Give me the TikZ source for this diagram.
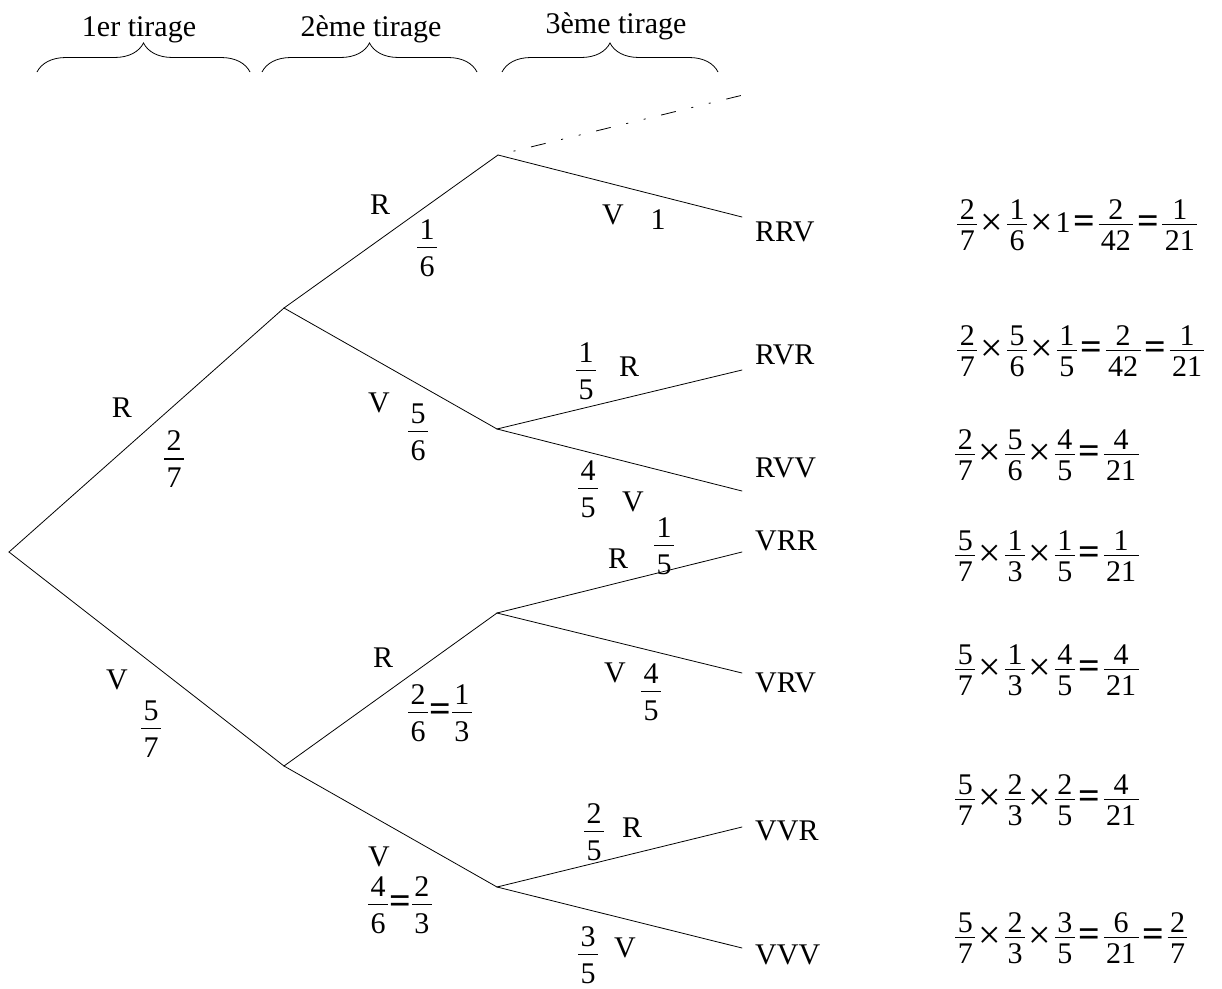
\RequirePackage{fix-cm}
\documentclass[tikz,border=0pt]{standalone}
\usepackage{amsmath}
\usepackage{fontspec}
\setmainfont{Liberation Serif}
\usetikzlibrary{decorations.pathreplacing}

% fraction for the edge labels
\newcommand\fr[2]{\ensuremath{\genfrac{}{}{1.5pt}{1}%
  {\mbox{\rule[-0.2em]{0pt}{0.2em}\kern0.08em#1\kern0.08em}}%
  {\mbox{\rule{0pt}{0.876em}\kern0.08em#2\kern0.08em}}}}
% tighter fraction for the products
\newcommand\ff[2]{\ensuremath{\genfrac{}{}{1.5pt}{1}%
  {\mbox{\rule[-0.1em]{0pt}{0.1em}\kern0.08em#1\kern0.08em}}%
  {\mbox{\rule{0pt}{0.776em}\kern0.08em#2\kern0.08em}}}}
\newcommand\eqs{\mskip1.5mu{\vcenter{\hbox{\fontsize{38}{38}\selectfont\bfseries =}}}\mskip1.5mu}
\newcommand\eqt{{\vcenter{\hbox{\fontsize{38}{38}\selectfont\bfseries =}}}}
\newcommand\tms{\mskip1.5mu{\vcenter{\hbox{\fontsize{40}{40}\selectfont ×}}}\mskip1.5mu}

\tikzset{
  lbl/.style={font=\fontsize{30}{36}\selectfont, inner sep=0pt},
  leaf/.style={lbl, anchor=west},
  formula/.style={font=\fontsize{30}{36}\selectfont, inner sep=0pt, anchor=west},
  head/.style={font=\fontsize{30}{36}\selectfont, inner sep=0pt, anchor=base},
  branch/.style={line width=0.8pt, line cap=round},
  dotline/.style={line width=0.8pt, dash pattern=on 15pt off 16pt on 2pt off 16pt on 2pt off 16pt, dash phase=33pt},
  bracket/.style={line width=0.8pt, decorate, decoration={brace, amplitude=29pt, aspect=0.5}},
}

\begin{document}
\begin{tikzpicture}[x=1pt, y=-1pt]
\useasboundingbox (0,0) rectangle (1222,988);
\fill[white] (0,0) rectangle (1222,988);

% headers
\node[head] (h1) at (139,36) {1er tirage};
\node[head] (h2) at (371,36) {2ème tirage};
\node[head] (h3) at (616,33) {3ème tirage};
\draw[bracket] (37,72) -- (250,72);
\draw[bracket] (262,72) -- (477,72);
\draw[bracket] (502,72) -- (718,72);

% tree vertices
\coordinate (O) at (9,552);
\coordinate (A) at (284,308);
\coordinate (B) at (284,766);
\coordinate (RR) at (498,155);
\coordinate (RV) at (497,429);
\coordinate (VR) at (497,613);
\coordinate (VV) at (497,887);
\coordinate (RRx) at (743,95);
\coordinate (RRV) at (742,217);
\coordinate (RVR) at (742,370);
\coordinate (RVV) at (742,491);
\coordinate (VRR) at (742,552);
\coordinate (VRV) at (742,673);
\coordinate (VVR) at (742,827);
\coordinate (VVV) at (742,948);

\draw[branch] (O) -- (A);
\draw[branch] (O) -- (B);
\draw[branch] (A) -- (RR);
\draw[branch] (A) -- (RV);
\draw[branch] (B) -- (VR);
\draw[branch] (B) -- (VV);
\draw[dotline] (RR) -- (RRx);
\draw[branch] (RR) -- (RRV);
\draw[branch] (RV) -- (RVR);
\draw[branch] (RV) -- (RVV);
\draw[branch] (VR) -- (VRR);
\draw[branch] (VR) -- (VRV);
\draw[branch] (VV) -- (VVR);
\draw[branch] (VV) -- (VVV);

% edge labels
\node[lbl] (l1) at (122,408) {R};
\node[lbl] (p1) at (174,459) {\fr{2}{7}};
\node[lbl] (l2) at (117,680) {V};
\node[lbl] (p2) at (151,729) {\fr{5}{7}};
\node[lbl] (l3) at (380,205) {R};
\node[lbl] (p3) at (427,248) {\fr{1}{6}};
\node[lbl] (l4) at (379,403) {V};
\node[lbl] (p4) at (418,432) {\fr{5}{6}};
\node[lbl] (l5) at (383,658) {R};
\node[lbl] (p5) at (440,713) {$\fr{2}{6}\eqt\fr{1}{3}$};
\node[lbl] (l6) at (379,857) {V};
\node[lbl] (p6) at (400,905) {$\fr{4}{6}\eqt\fr{2}{3}$};
\node[lbl] (l7) at (613,215) {V};
\node[lbl] (p7) at (658,220) {1};
\node[lbl] (p8) at (586,371) {\fr{1}{5}};
\node[lbl] (l8) at (629,367) {R};
\node[lbl] (p9) at (588,489) {\fr{4}{5}};
\node[lbl] (l9) at (633,502) {V};
\node[lbl] (l10) at (618,559) {R};
\node[lbl] (p10) at (664,546) {\fr{1}{5}};
\node[lbl] (l11) at (615,673) {V};
\node[lbl] (p11) at (651,692) {\fr{4}{5}};
\node[lbl] (p12) at (594,832) {\fr{2}{5}};
\node[lbl] (l12) at (632,828) {R};
\node[lbl] (p13) at (588,955) {\fr{3}{5}};
\node[lbl] (l13) at (625,948) {V};

% leaf labels
\node[leaf] (nRRV) at (755,232) {RRV};
\node[leaf] (nRVR) at (755,355) {RVR};
\node[leaf] (nRVV) at (755,468) {RVV};
\node[leaf] (nVRR) at (755,541) {VRR};
\node[leaf] (nVRV) at (755,683) {VRV};
\node[leaf] (nVVR) at (755,831) {VVR};
\node[leaf] (nVVV) at (755,955) {VVV};

% products
\node[formula] (f1) at (956,225) {$\ff{2}{7}\tms\ff{1}{6}\tms\mbox{1}\eqs\ff{2}{42}\eqs\ff{1}{21}$};
\node[formula] (f2) at (956,351) {$\ff{2}{7}\tms\ff{5}{6}\tms\ff{1}{5}\eqs\ff{2}{42}\eqs\ff{1}{21}$};
\node[formula] (f3) at (954,455) {$\ff{2}{7}\tms\ff{5}{6}\tms\ff{4}{5}\eqs\ff{4}{21}$};
\node[formula] (f4) at (954,556) {$\ff{5}{7}\tms\ff{1}{3}\tms\ff{1}{5}\eqs\ff{1}{21}$};
\node[formula] (f5) at (954,670) {$\ff{5}{7}\tms\ff{1}{3}\tms\ff{4}{5}\eqs\ff{4}{21}$};
\node[formula] (f6) at (954,800) {$\ff{5}{7}\tms\ff{2}{3}\tms\ff{2}{5}\eqs\ff{4}{21}$};
\node[formula] (f7) at (954,938) {$\ff{5}{7}\tms\ff{2}{3}\tms\ff{3}{5}\eqs\ff{6}{21}\eqs\ff{2}{7}$};
\end{tikzpicture}
\end{document}
